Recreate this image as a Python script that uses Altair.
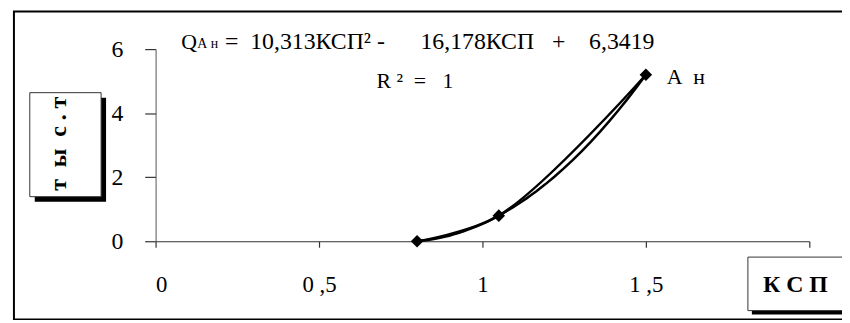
import altair as alt
import pandas as pd

# ---- data ----
ksp = [0.8, 1.05, 1.5]
q_an = [0.0, 0.8, 5.2]
x_ticks = [0, 0.5, 1, 1.5, 2]
y_ticks = [0, 2, 4, 6]
NB = "\u00a0"
series_label = "А" + NB * 2 + "н"
eq_q = "Q"
eq_sub = "А" + NB + "н"
eq_rest = ("=" + NB * 2 + "10,313КСП²" + NB + "-" + NB * 6
           + "16,178КСП" + NB * 3 + "+" + NB * 4 + "6,3419")
r2_text = "R" + NB + "²" + NB * 2 + "=" + NB * 3 + "1"
x_title = "К" + NB + "С" + NB + "П"
y_title = "т" + NB * 2 + "ы" + NB * 2 + "с" + NB + "." + NB + "т"

FONT = "Liberation Serif"
W, H = 660, 194

df = pd.DataFrame({"x": ksp, "y": q_an})
one = pd.DataFrame({"a": [0]})

xs = alt.Scale(domain=[0, 2], nice=False, zero=False)
ys = alt.Scale(domain=[0, 6], nice=False)

x_enc = alt.X("x:Q", scale=xs, axis=alt.Axis(
    values=x_ticks, title=None, grid=False, tickSize=6, labelPadding=27,
    labelFontSize=23, labelFont=FONT, labelColor="black",
    domainColor="#333", tickColor="#333", domainWidth=1.2, tickWidth=1.2,
    labelExpr="datum.value >= 2 ? '' : replace('' + datum.value, '.', ' ,')"))
y_enc = alt.Y("y:Q", scale=ys, axis=alt.Axis(
    values=y_ticks, title=None, grid=False, tickSize=11, labelPadding=22,
    labelFontSize=24, labelFont=FONT, labelColor="black",
    domainColor="#555", tickColor="#333", domainWidth=1, tickWidth=1.2))

base = alt.Chart(df)
deco = alt.Chart(one)

frame = deco.mark_rect(fillOpacity=0, stroke="black", strokeWidth=2).encode(
    x=alt.value(-143), x2=alt.value(720), y=alt.value(-38), y2=alt.value(273))

# y title box with shadow
ybox_sh = deco.mark_rect(color="black").encode(
    x=alt.value(-122), x2=alt.value(-50), y=alt.value(49), y2=alt.value(154))
ybox = deco.mark_rect(fill="white", stroke="#333", strokeWidth=1).encode(
    x=alt.value(-127), x2=alt.value(-55), y=alt.value(44), y2=alt.value(149))
ytext = deco.mark_text(angle=270, align="left", baseline="middle", font=FONT,
                       fontWeight="bold", fontSize=24, color="black").encode(
    x=alt.value(-97), y=alt.value(143), text=alt.value(y_title))

# x title box with shadow
xbox_sh = deco.mark_rect(color="black").encode(
    x=alt.value(602), x2=alt.value(700), y=alt.value(214), y2=alt.value(268))
xbox = deco.mark_rect(fill="white", stroke="#333", strokeWidth=1).encode(
    x=alt.value(598), x2=alt.value(695), y=alt.value(210), y2=alt.value(264))
xtext = deco.mark_text(align="center", baseline="middle", font=FONT,
                       fontWeight="bold", fontSize=24, color="black").encode(
    x=alt.value(646), y=alt.value(238), text=alt.value(x_title))

eq1 = deco.mark_text(align="left", baseline="alphabetic", font=FONT,
                     fontSize=22, color="black").encode(
    x=alt.value(26), y=alt.value(0), text=alt.value(eq_q))
eq2 = deco.mark_text(align="left", baseline="alphabetic", font=FONT,
                     fontSize=14, color="black").encode(
    x=alt.value(42), y=alt.value(-1), text=alt.value(eq_sub))
eq3 = deco.mark_text(align="left", baseline="alphabetic", font=FONT,
                     fontSize=24, color="black").encode(
    x=alt.value(70), y=alt.value(0), text=alt.value(eq_rest))
r2 = deco.mark_text(align="left", baseline="alphabetic", font=FONT,
                    fontSize=22, color="black").encode(
    x=alt.value(223), y=alt.value(39), text=alt.value(r2_text))

trend = base.transform_regression("x", "y", method="poly", order=2,
                                  extent=[0.8, 1.5]).mark_line(
    color="black", strokeWidth=2.5).encode(x=x_enc, y=y_enc)
line = base.mark_line(color="black", strokeWidth=2.5,
                      interpolate="catmull-rom").encode(x=x_enc, y=y_enc)
pts = base.mark_point(shape="diamond", filled=True, size=160, color="black",
                      opacity=1).encode(x=x_enc, y=y_enc)
lab = base.transform_filter("datum.x == 1.5").mark_text(
    align="left", baseline="middle", font=FONT, fontSize=22, dx=21, dy=2,
    color="black").encode(x=x_enc, y=y_enc, text=alt.value(series_label))

chart = alt.layer(frame, ybox_sh, ybox, ytext, xbox_sh, xbox, xtext,
                  eq1, eq2, eq3, r2, trend, line, pts, lab).properties(
    width=W, height=H,
    autosize=alt.AutoSizeParams(type="none"),
    padding={"left": 149, "top": 40, "right": 33, "bottom": 78},
    background="white",
).configure_view(stroke=None)

chart.save("out.html", embed_options={"renderer": "svg", "actions": False})
